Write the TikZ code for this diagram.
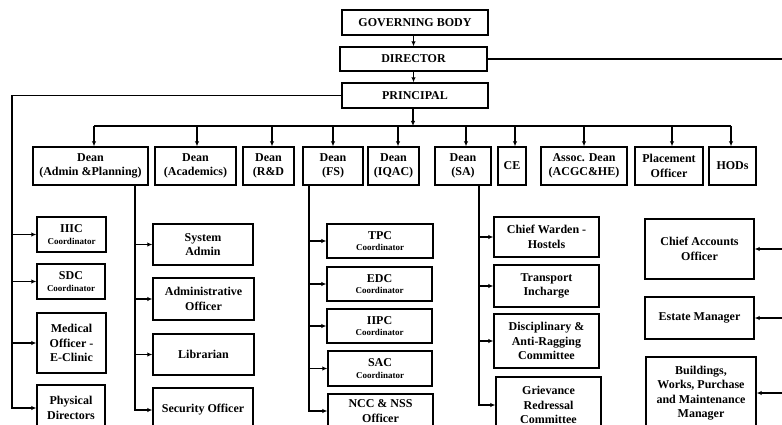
\documentclass[tikz,border=0pt]{standalone}
\usepackage{fontspec}
\setmainfont{Liberation Serif}
\usetikzlibrary{arrows.meta}
\tikzset{
  box/.style={draw, line width=1.4pt, align=center, inner sep=1pt,
    font=\bfseries\fontsize{12}{14.5}\selectfont},
  ln/.style={line width=1.1pt},
  arr/.style={ln, -{Latex[length=5pt,width=4.5pt]}}
}
\newcommand\mybox[6]{\node[box,minimum width=#4,minimum height=#5] (#1) at (#2,#3) {#6};}
\newcommand\coord[1]{\\[-3pt]{\fontsize{9}{10}\selectfont #1}}
\begin{document}
\begin{tikzpicture}[x=1pt,y=-1pt]
\useasboundingbox (0,0) rectangle (782,425);
\clip (0,0) rectangle (782,425);
% top
\mybox{GB}{415}{22.5}{146}{25}{GOVERNING BODY}
\mybox{DIR}{413.5}{59}{147}{24}{DIRECTOR}
\mybox{PRIN}{415}{95.5}{146}{25}{PRINCIPAL}
% deans
\mybox{dA}{90.5}{166}{115}{38}{Dean\\(Admin \&Planning)}
\mybox{dAc}{195.5}{166}{81}{38}{Dean\\(Academics)}
\mybox{dR}{268.5}{166}{51}{38}{Dean\\(R\&D}
\mybox{dF}{333}{166}{60}{38}{Dean\\(FS)}
\mybox{dI}{393.5}{166}{51}{38}{Dean\\(IQAC)}
\mybox{dS}{463}{166}{56}{38}{Dean\\(SA)}
\mybox{CE}{512}{166}{28}{38}{CE}
\mybox{AD}{584}{166}{86}{38}{Assoc. Dean\\(ACGC\&HE)}
\mybox{PO}{669}{166}{68}{38}{Placement\\Officer}
\mybox{HOD}{732.5}{166}{47}{38}{HODs}
% left column
\mybox{IIIC}{71.5}{234.5}{69}{35}{IIIC\coord{Coordinator}}
\mybox{SDC}{71}{281.5}{68}{35}{SDC\coord{Coordinator}}
\mybox{MED}{71.5}{343}{69}{60}{Medical\\Officer -\\E-Clinic}
\mybox{PHY}{71}{408}{68}{46}{Physical\\Directors}
% admin column
\mybox{SYS}{203}{244.5}{100}{41}{System\\Admin}
\mybox{ADM}{203.5}{299}{101}{42}{Administrative\\Officer}
\mybox{LIB}{203.5}{354.5}{101}{41}{Librarian}
\mybox{SEC}{203}{410}{100}{44}{Security Officer}
% FS column
\mybox{TPC}{380}{241}{106}{34}{TPC\coord{Coordinator}}
\mybox{EDC}{379.5}{284}{105}{34}{EDC\coord{Coordinator}}
\mybox{IIPC}{379.5}{326}{105}{34}{IIPC\coord{Coordinator}}
\mybox{SAC}{380}{368.5}{104}{35}{SAC\coord{Coordinator}}
\mybox{NCC}{380.5}{411}{105}{34}{NCC \& NSS\\Officer}
% SA column
\mybox{CW}{546.5}{237}{105}{40}{Chief Warden -\\Hostels}
\mybox{TR}{546.5}{286}{105}{42}{Transport\\Incharge}
\mybox{DIS}{546.5}{341}{105}{54}{Disciplinary \&\\Anti-Ragging\\Committee}
\mybox{GRV}{548.5}{405}{105}{56}{Grievance\\Redressal\\Committee}
% right column
\mybox{CAO}{699.5}{249}{109}{60}{Chief Accounts\\Officer}
\mybox{EM}{699.5}{318}{109}{42}{Estate Manager}
\mybox{BLD}{701}{393}{110}{72}{Buildings,\\Works, Purchase\\and Maintenance\\Manager}
% coordinates
\coordinate (bus) at (413,126);
\coordinate (L) at (12,0);
\coordinate (aX) at (135,0);
\coordinate (fX) at (309,0);
\coordinate (sX) at (479,0);
\coordinate (R) at (782,0);
% top connectors
\draw[arr] (GB.south -| DIR.north) -- (DIR.north);
\draw[arr] (DIR.south) -- (DIR.south |- PRIN.north);
\draw[arr] (PRIN.south -| bus) -- (bus);
\foreach \n/\x in {dA/94,dAc/197,dR/272,dF/333,dI/398,dS/466,CE/515,AD/584,PO/672,HOD/731}{
  \coordinate (t\n) at (\x,126);
  \draw[arr] (t\n) -- (t\n |- \n.north);
}
\draw[ln] (tdA) -- (tHOD);
\draw[ln] (DIR.east) -- (DIR.east -| R);
% left column
\draw[arr] (PRIN.west) -- (PRIN.west -| L) |- (PHY.west);
\foreach \n in {IIIC,SDC,MED}
  \draw[arr] (L |- \n.west) -- (\n.west);
% admin column
\draw[arr] (dA.south -| aX) |- (SEC.west);
\foreach \n in {SYS,ADM,LIB}
  \draw[arr] (aX |- \n.west) -- (\n.west);
% FS column
\draw[arr] (dF.south -| fX) |- (NCC.west);
\foreach \n in {TPC,EDC,IIPC,SAC}
  \draw[arr] (fX |- \n.west) -- (\n.west);
% SA column
\draw[arr] (dS.south -| sX) |- (GRV.west);
\foreach \n in {CW,TR,DIS}
  \draw[arr] (sX |- \n.west) -- (\n.west);
% right column
\foreach \n in {CAO,EM,BLD}
  \draw[arr] (R |- \n.east) -- (\n.east);
\end{tikzpicture}
\end{document}
